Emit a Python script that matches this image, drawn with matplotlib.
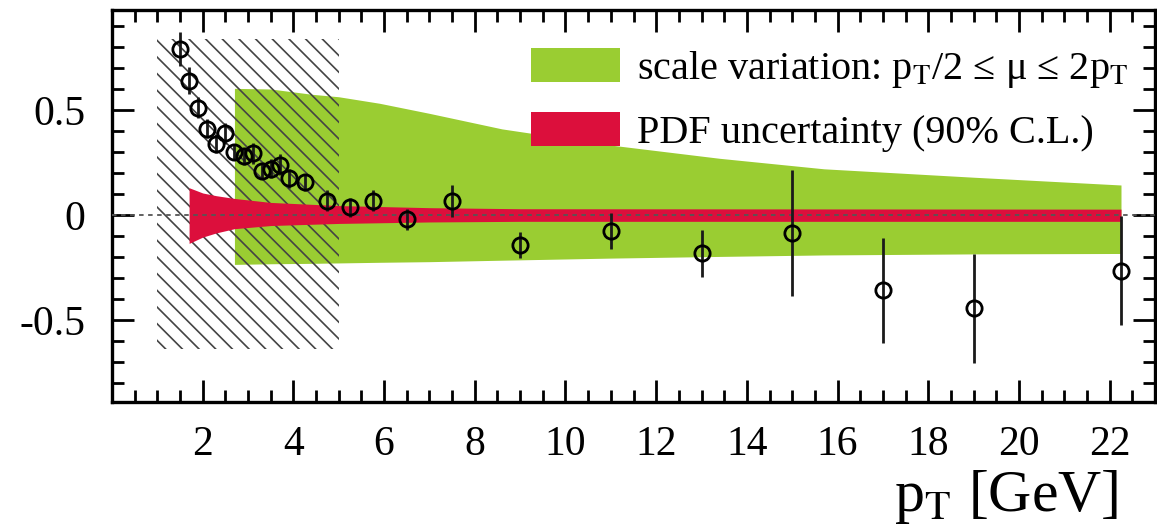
import numpy as np
import matplotlib
matplotlib.use('Agg')
import matplotlib.pyplot as plt
from matplotlib.patches import Patch, Rectangle
from matplotlib.ticker import MultipleLocator

# Fonts: Times-like serif everywhere
plt.rcParams['font.family'] = ['Liberation Serif', 'DejaVu Serif']
plt.rcParams['mathtext.fontset'] = 'stix'
plt.rcParams['hatch.linewidth'] = 1.2

# Data points (ratio vs pT)
pt = [1.5, 1.7, 1.9, 2.1, 2.3, 2.5, 2.7, 2.9, 3.1, 3.3, 3.5, 3.7, 3.9,
      4.25, 4.75, 5.25, 5.75, 6.5, 7.5, 9, 11, 13, 15, 17, 19, 22.25]
ratio = [0.79, 0.64, 0.51, 0.41, 0.34, 0.39, 0.30, 0.28, 0.295, 0.21, 0.22, 0.24, 0.175,
         0.155, 0.067, 0.037, 0.067, -0.02, 0.068, -0.143, -0.075, -0.183, -0.087,
         -0.357, -0.444, -0.265]
ratio_err = [0.08, 0.065, 0.05, 0.045, 0.045, 0.05, 0.04, 0.04, 0.05, 0.04, 0.045, 0.05, 0.045,
             0.04, 0.05, 0.045, 0.05, 0.05, 0.075, 0.063, 0.087, 0.11, 0.30,
             0.25, 0.26, 0.26]

# Scale variation band
scale_x = [2.7, 3.5, 4.4, 5.0, 5.9, 7.0, 8.6, 11.0, 13.4, 15.7, 19.0, 22.25]
scale_hi = [0.603, 0.60, 0.575, 0.563, 0.532, 0.484, 0.41, 0.333, 0.27, 0.22, 0.18, 0.143]
scale_lo = [-0.235, -0.232, -0.23, -0.228, -0.225, -0.222, -0.215, -0.205, -0.197, -0.19, -0.185, -0.183]

# PDF uncertainty band
pdf_x = [1.7, 2.0, 2.3, 2.7, 3.5, 5.0, 7.0, 9.0, 22.25]
pdf_hi = [0.13, 0.105, 0.092, 0.079, 0.06, 0.045, 0.035, 0.03, 0.028]
pdf_lo = [-0.135, -0.105, -0.085, -0.065, -0.05, -0.04, -0.033, -0.03, -0.03]

# hatched (excluded) region
hatch_x = (1.0, 5.0)
hatch_y = (-0.64, 0.84)

GREEN = '#9acd32'
RED = '#dc0f3c'

fig = plt.figure(figsize=(11.57, 5.28), dpi=100)
ax = fig.add_axes([112/1157, 126/528, 1043/1157, 392/528])

ax.fill_between(scale_x, scale_lo, scale_hi, color=GREEN, lw=0, zorder=1)
ax.add_patch(Rectangle((hatch_x[0], hatch_y[0]), hatch_x[1]-hatch_x[0], hatch_y[1]-hatch_y[0],
                       facecolor='none', edgecolor='#444444', hatch='\\\\', lw=0, zorder=2))
ax.fill_between(pdf_x, pdf_lo, pdf_hi, color=RED, lw=0, zorder=3)
ax.axhline(0, color='#555555', lw=1.3, ls=(0, (2.5, 2.5)), zorder=4)

ax.errorbar(pt, ratio, yerr=ratio_err, fmt='o', mfc='none', mec='black', ms=11, mew=2.0,
            ecolor='#1a1a1a', elinewidth=2.0, capsize=0, zorder=5)

ax.set_xlim(0, 23)
ax.set_ylim(-0.89, 0.976)
ax.set_xticks([2, 4, 6, 8, 10, 12, 14, 16, 18, 20, 22])
ax.xaxis.set_minor_locator(MultipleLocator(0.5))
ax.set_yticks([-0.5, 0, 0.5])
ax.set_yticklabels(['-0.5', '0', '0.5'])
ax.yaxis.set_minor_locator(MultipleLocator(0.1))

ax.tick_params(which='both', direction='in', top=True, right=True, width=2.0, labelsize=30)
ax.tick_params(which='major', length=16)
ax.tick_params(which='minor', length=8.5)
ax.tick_params(axis='x', pad=17)
ax.tick_params(axis='y', pad=19)
for s in ax.spines.values():
    s.set_linewidth(2.4)

ax.set_xlabel(r'p$_\mathrm{T}$ [GeV]', fontsize=43, ha='right', va='top')
ax.xaxis.set_label_coords(0.9645, -0.168)

handles = [Patch(facecolor=GREEN, edgecolor='none'), Patch(facecolor=RED, edgecolor='none')]
labels = [r'scale variation: p$_\mathrm{T}$/2 ≤ μ ≤ 2p$_\mathrm{T}$', 'PDF uncertainty (90% C.L.)']
ax.legend(handles, labels, loc='upper left', bbox_to_anchor=(0.4017, 0.903), frameon=False,
          fontsize=29, borderpad=0, borderaxespad=0, handlelength=2.2, handleheight=0.92,
          handletextpad=0.42, labelspacing=0.55)

fig.savefig('out.png', dpi=100)
